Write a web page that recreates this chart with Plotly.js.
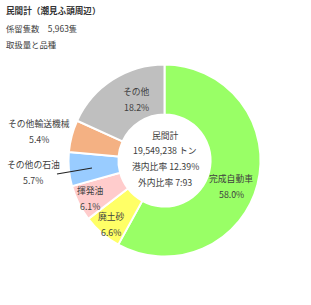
<!DOCTYPE html>
<html><head><meta charset="utf-8">
<script src="https://cdn.plot.ly/plotly-3.0.1.min.js"></script>
<style>html,body{margin:0;padding:0;background:#fff;}#chart{width:311px;height:305px;}</style>
</head><body><div id="chart"></div>
<script>
const categories = ["完成自動車","廃土砂","揮発油","その他の石油","その他輸送機械","その他"];
const shares = [58.0, 6.6, 6.1, 5.7, 5.4, 18.2];
const colors = ["#99FF66","#FFFF66","#FFCCCC","#99CCFF","#F4B183","#BFBFBF"];
const centerLines = ["民間計","19,549,238 トン","港内比率 12.39%","外内比率 7:93"];
const headerLines = ["係留隻数　5,963隻","取扱量と品種"];
const titleText = "民間計（潮見ふ頭周辺）";

const W = 311, H = 305;
const FONT = "Noto Sans CJK JP";
const TXT = "#404040";
const FS = 8.8;
const px = x => x / W;
const py = y => 1 - y / H;

// label anchor centres (pixel) for each category: name line, pct line below
const labelPos = [[231,178],[111,216],[90,190],[33,164],[39,123],[136,91]];

const annotations = [];
categories.forEach((c, i) => {
  const [lx, ly] = labelPos[i];
  annotations.push({xref:"paper", yref:"paper", x:px(lx), y:py(ly), text:c, showarrow:false,
    xanchor:"center", yanchor:"middle", font:{family:FONT, size:FS, color:TXT}});
  annotations.push({xref:"paper", yref:"paper", x:px(lx), y:py(ly+16), text:shares[i].toFixed(1)+"%", showarrow:false,
    xanchor:"center", yanchor:"middle", font:{family:FONT, size:FS, color:TXT}});
});
centerLines.forEach((t, i) => {
  annotations.push({xref:"paper", yref:"paper", x:px(165), y:py(135 + i*15.7), text:t, showarrow:false,
    xanchor:"center", yanchor:"middle", font:{family:FONT, size:FS, color:TXT}});
});
annotations.push({xref:"paper", yref:"paper", x:px(4), y:py(10), text:"<b>"+titleText+"</b>", showarrow:false,
  xanchor:"left", yanchor:"middle", font:{family:FONT, size:8.6, color:"#333"}});
headerLines.forEach((t, i) => {
  annotations.push({xref:"paper", yref:"paper", x:px(4), y:py(28 + i*16), text:t, showarrow:false,
    xanchor:"left", yanchor:"middle", font:{family:FONT, size:8.4, color:TXT}});
});

const shapes = [{type:"line", xref:"paper", yref:"paper", x0:px(57), y0:py(174), x1:px(92), y1:py(168),
  line:{color:"#222", width:1.2}}];

const data = [{
  type:"pie", labels:categories, values:shares, sort:false, direction:"clockwise", rotation:0,
  hole:0.48, marker:{colors:colors, line:{color:"#fff", width:2}},
  textinfo:"none", hoverinfo:"label+percent", showlegend:false,
  domain:{x:[68.5/W, 260.5/W], y:[1-256.5/H, 1-64.5/H]}
}];
const layout = {width:W, height:H, margin:{l:0,r:0,t:0,b:0}, paper_bgcolor:"#fff",
  annotations:annotations, shapes:shapes, showlegend:false};
Plotly.newPlot("chart", data, layout, {displayModeBar:false, staticPlot:true});
</script></body></html>
